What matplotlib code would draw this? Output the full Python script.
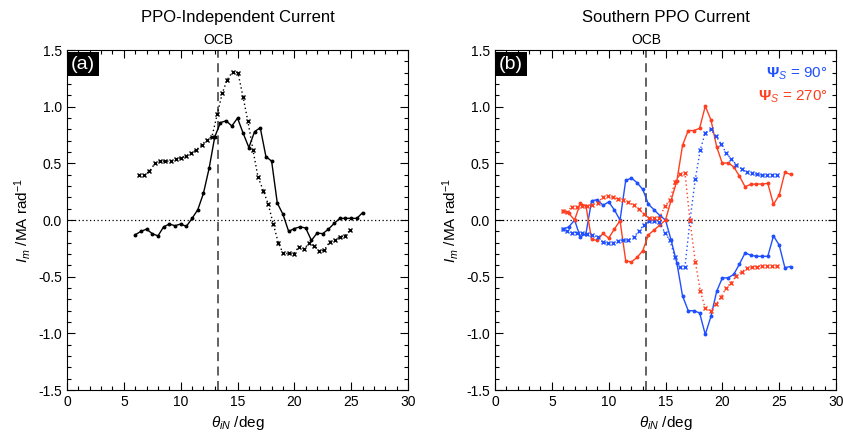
import matplotlib
matplotlib.use("Agg")
import matplotlib.pyplot as plt
from matplotlib.ticker import MultipleLocator, FormatStrFormatter
import matplotlib.transforms as mtransforms

plt.rcParams['font.family'] = ['Liberation Sans', 'DejaVu Sans']
plt.rcParams['mathtext.fontset'] = 'custom'
plt.rcParams['mathtext.rm'] = 'Liberation Sans'
plt.rcParams['mathtext.it'] = 'Liberation Sans:italic'
plt.rcParams['mathtext.bf'] = 'Liberation Sans:bold'

# solid-line grid (colatitude, deg)
theta_grid = [6.0, 6.5, 7.0, 7.5, 8.0, 8.5, 9.0, 9.5, 10.0, 10.5, 11.0, 11.5, 12.0, 12.5,
              13.0, 13.5, 14.0, 14.5, 15.0, 15.5, 16.0, 16.5, 17.0, 17.5, 18.0, 18.5,
              19.0, 19.5, 20.0, 20.5, 21.0, 21.5, 22.0, 22.5, 23.0, 23.5, 24.0, 24.5,
              25.0, 25.5, 26.0]

# panel (a)
indep_solid = [-0.13, -0.10, -0.08, -0.12, -0.14, -0.06, -0.035, -0.05, -0.035, -0.056,
               0.015, 0.09, 0.235, 0.456, 0.735, 0.86, 0.876, 0.83, 0.90, 0.765, 0.64,
               0.78, 0.815, 0.56, 0.52, 0.15, 0.05, -0.10, -0.075, -0.06, -0.07, -0.18,
               -0.115, -0.12, -0.08, -0.03, 0.015, 0.015, 0.015, 0.015, 0.065]
theta_a_x = [6.36, 6.8, 7.24, 7.74, 8.18, 8.65, 9.12, 9.56, 10.03, 10.47, 10.94, 11.37,
             11.85, 12.29, 12.75, 13.22, 13.66, 14.1, 14.57, 15.04, 15.48, 15.92, 16.36,
             16.8, 17.27, 17.7, 18.15, 18.6, 19.02, 19.5, 19.94, 20.4, 20.84, 21.3,
             21.75, 22.2, 22.63, 23.13, 23.57, 24.0, 24.45, 24.89]
indep_x = [0.40, 0.40, 0.43, 0.50, 0.52, 0.52, 0.52, 0.54, 0.55, 0.565, 0.59, 0.62, 0.66,
           0.71, 0.735, 0.935, 1.12, 1.24, 1.31, 1.30, 1.09, 0.87, 0.62, 0.38, 0.26, 0.14,
           -0.035, -0.205, -0.295, -0.295, -0.30, -0.235, -0.255, -0.205, -0.225, -0.275,
           -0.265, -0.19, -0.175, -0.15, -0.14, -0.09]

# panel (b)
blue_solid = [-0.08, -0.06, 0.0, -0.15, -0.12, 0.17, 0.18, 0.13, 0.16, 0.09, 0.0, 0.35,
              0.37, 0.33, 0.27, 0.14, 0.09, 0.04, 0.0, -0.18, -0.38, -0.67, -0.80, -0.80,
              -0.82, -1.01, -0.85, -0.63, -0.51, -0.51, -0.48, -0.39, -0.29, -0.31, -0.32,
              -0.32, -0.32, -0.14, -0.22, -0.42, -0.41]
red_solid = [0.08, 0.06, 0.0, 0.147, 0.124, -0.17, -0.18, -0.118, -0.16, -0.08, -0.006,
             -0.36, -0.37, -0.33, -0.27, -0.13, -0.088, -0.044, 0.0, 0.177, 0.347, 0.66,
             0.79, 0.79, 0.81, 1.006, 0.883, 0.647, 0.50, 0.506, 0.47, 0.388, 0.294, 0.315,
             0.318, 0.318, 0.324, 0.138, 0.22, 0.42, 0.403]
theta_b_x = [5.95, 6.3, 6.74, 7.18, 7.62, 8.06, 8.56, 9.03, 9.47, 9.94, 10.38, 10.85,
             11.28, 11.72, 12.22, 12.66, 13.1, 13.57, 14.0, 14.45, 14.95, 15.39, 15.83,
             16.27, 16.71, 17.15, 17.62, 18.06, 18.5, 18.97, 19.44, 19.9, 20.34, 20.78,
             21.22, 21.7, 22.14, 22.58, 23.02, 23.48, 23.92, 24.36, 24.83]
blue_x = [-0.082, -0.094, -0.11, -0.11, -0.118, -0.124, -0.132, -0.147, -0.197, -0.206,
          -0.2, -0.185, -0.177, -0.177, -0.147, -0.097, -0.044, -0.009, -0.006, -0.02,
          -0.11, -0.18, -0.33, -0.41, -0.418, -0.006, 0.36, 0.62, 0.77, 0.80, 0.74, 0.67,
          0.59, 0.54, 0.49, 0.45, 0.42, 0.415, 0.405, 0.395, 0.40, 0.40, 0.40]
red_x = [0.08, 0.07, 0.117, 0.117, 0.124, 0.124, 0.135, 0.153, 0.2, 0.21, 0.2, 0.183,
         0.177, 0.156, 0.132, 0.094, 0.05, 0.015, 0.015, 0.015, 0.124, 0.177, 0.338,
         0.403, 0.418, 0.0, -0.368, -0.624, -0.78, -0.80, -0.744, -0.677, -0.597, -0.553,
         -0.494, -0.456, -0.427, -0.418, -0.41, -0.403, -0.406, -0.406, -0.406]

ocb = 13.3
blue = '#1f4fff'
red = '#ff3f1f'
dot = (0, (1, 2))

fig = plt.figure(figsize=(8.43, 4.33), dpi=100)
ax_a = fig.add_axes([0.0795, 0.0993, 0.4045, 0.785])
ax_b = fig.add_axes([0.5872, 0.0993, 0.4045, 0.785])


def style(ax, title, tag):
    ax.set_xlim(0, 30)
    ax.set_ylim(-1.5, 1.5)
    ax.xaxis.set_major_locator(MultipleLocator(5))
    ax.xaxis.set_minor_locator(MultipleLocator(1))
    ax.yaxis.set_major_locator(MultipleLocator(0.5))
    ax.yaxis.set_minor_locator(MultipleLocator(0.1))
    ax.yaxis.set_major_formatter(FormatStrFormatter('%.1f'))
    ax.tick_params(which='both', direction='in', top=True, right=True, labelsize=10)
    ax.tick_params(which='major', length=6, width=0.8)
    ax.tick_params(which='minor', length=3, width=0.8)
    ax.axhline(0, color='black', lw=0.9, ls=dot)
    ax.axvline(ocb, color='#555555', lw=1.3, ls=(0, (5, 3)))
    ax.set_xlabel(r'$\theta_{iN}$ /deg', fontsize=11)
    ax.set_ylabel(r'$I_m$ /MA rad$^{-1}$', fontsize=11)
    ax.text(0.5, 1.097, title, transform=ax.transAxes, ha='center', va='center', fontsize=12)
    trans = mtransforms.blended_transform_factory(ax.transData, ax.transAxes)
    ax.text(ocb, 1.03, 'OCB', transform=trans, ha='center', va='center', fontsize=10)
    ax.text(0.012, 0.983, tag, transform=ax.transAxes, ha='left', va='top', fontsize=14,
            color='white', bbox=dict(facecolor='black', edgecolor='none', pad=2.5))


style(ax_a, 'PPO-Independent Current', '(a)')
style(ax_b, 'Southern PPO Current', '(b)')

ax_a.plot(theta_grid, indep_solid, color='black', lw=1.0, marker='o', ms=1.8)
ax_a.plot(theta_a_x, indep_x, color='black', lw=1.0, ls=dot, marker='x', ms=3, mew=1.0)

ax_b.plot(theta_grid, blue_solid, color=blue, lw=1.0, marker='o', ms=1.8)
ax_b.plot(theta_grid, red_solid, color=red, lw=1.0, marker='o', ms=1.8)
ax_b.plot(theta_b_x, blue_x, color=blue, lw=1.0, ls=dot, marker='x', ms=3, mew=1.0)
ax_b.plot(theta_b_x, red_x, color=red, lw=1.0, ls=dot, marker='x', ms=3, mew=1.0)

ax_b.text(0.975, 0.93, r'$\mathbf{\Psi}_S$ = 90°', transform=ax_b.transAxes,
          ha='right', va='center', color=blue, fontsize=11)
ax_b.text(0.975, 0.862, r'$\mathbf{\Psi}_S$ = 270°', transform=ax_b.transAxes,
          ha='right', va='center', color=red, fontsize=11)

fig.savefig('out.png', dpi=100)
